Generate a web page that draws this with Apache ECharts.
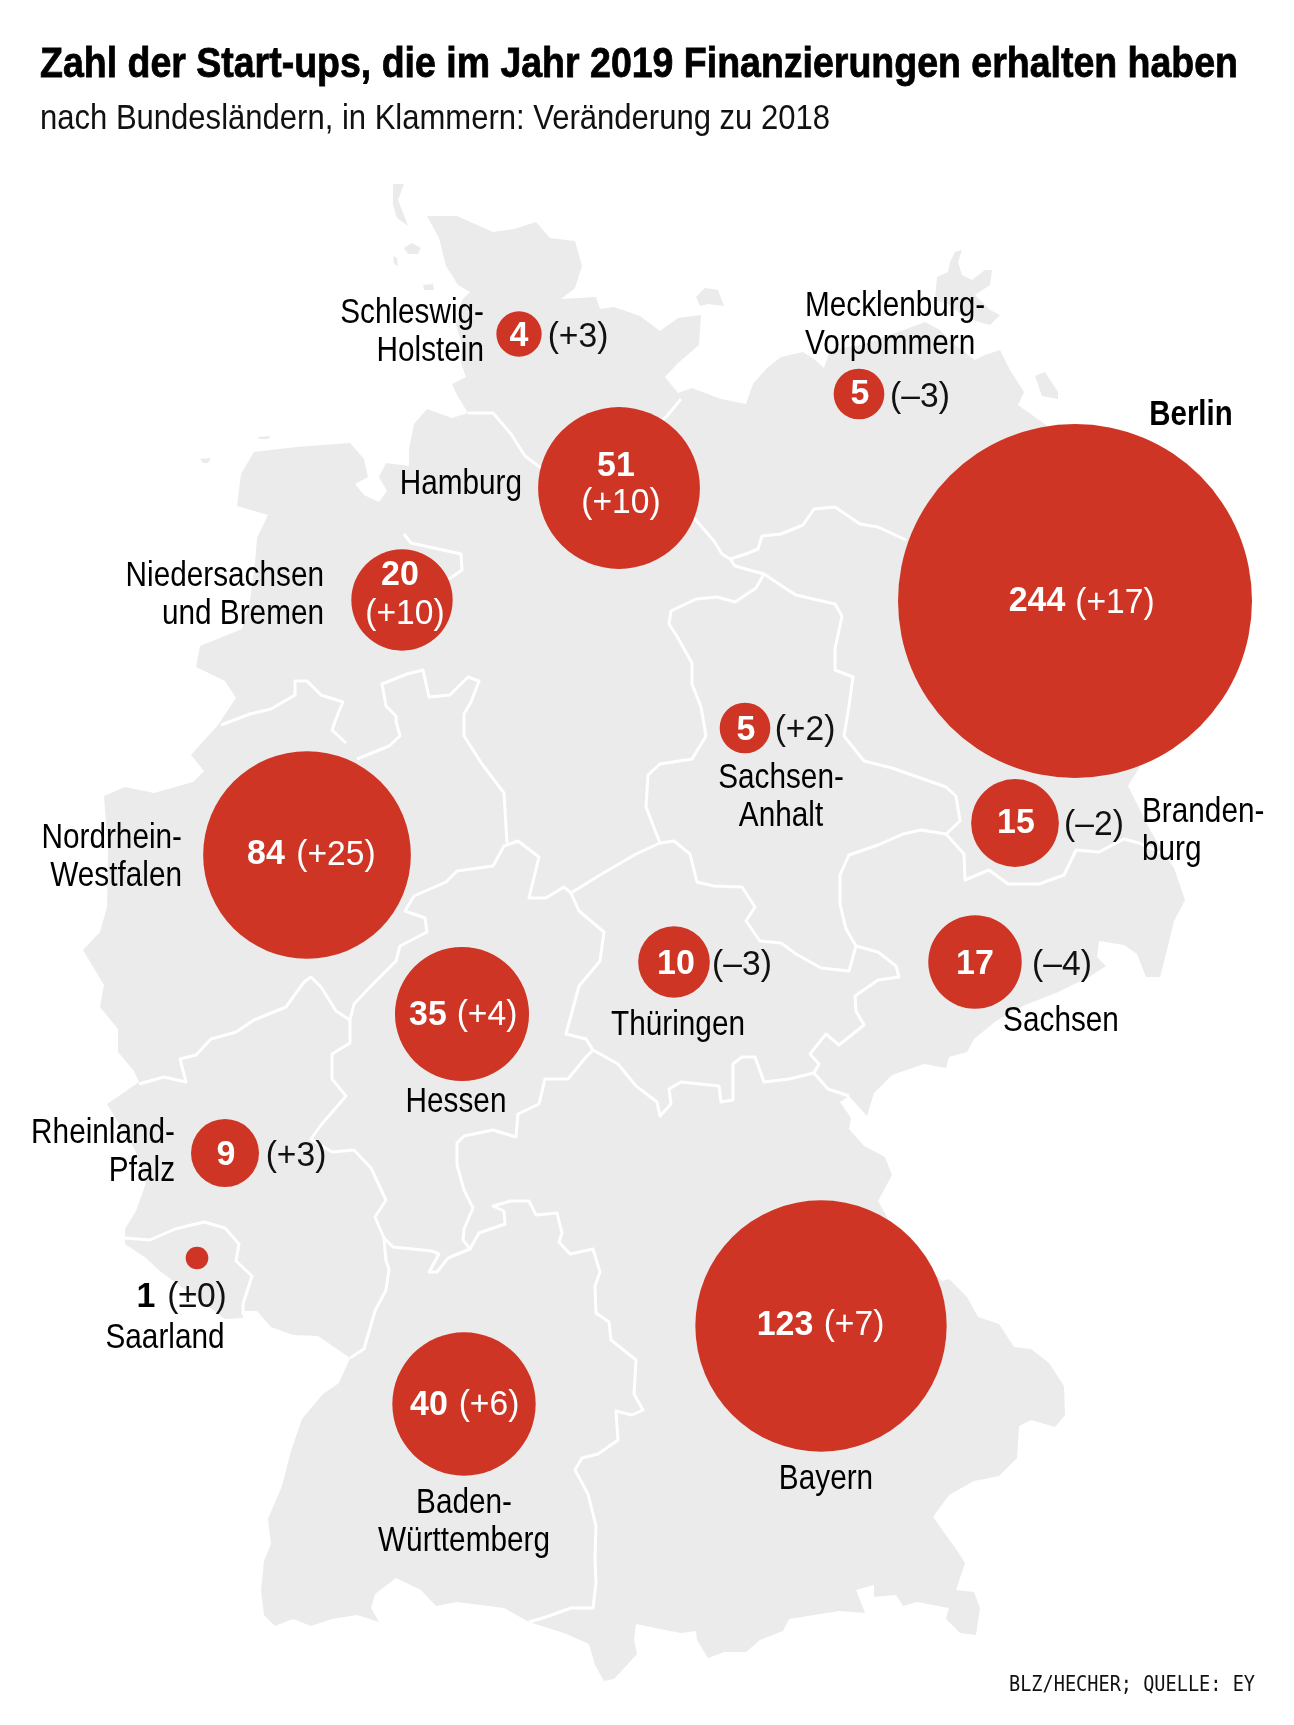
<!DOCTYPE html>
<html>
<head>
<meta charset="utf-8">
<style>html,body{margin:0;padding:0;background:#fff}#main{width:1294px;height:1725px}</style>
<script src="https://cdn.jsdelivr.net/npm/echarts@6/dist/echarts.min.js"></script>
</head>
<body>
<div id="main"></div>
<script>
// Daten
var stateNames = ['Schleswig-\nHolstein','Mecklenburg-\nVorpommern','Hamburg','Niedersachsen\nund Bremen','Berlin','Sachsen-\nAnhalt','Branden-\nburg','Sachsen','Thüringen','Nordrhein-\nWestfalen','Hessen','Rheinland-\nPfalz','Saarland','Baden-\nWürttemberg','Bayern'];
var startups = [4,5,51,20,244,5,15,17,10,84,35,9,1,40,123];
var changes = [3,-3,10,10,17,2,-2,-4,-3,25,4,3,0,6,7];

// Lage der Kreise und Texte auf der Karte
var bubblePos = [[519,334],[859,394],[619,488],[402,600],[1075,601],[745,728],[1015,823],[975,962],[674,962],[307,855],[462,1014],[225,1153],[197,1258],[464,1404],[821,1326]];
var numberPos = [[519,336],[860,394],[616,466],[400,575],[1037,601],[746,730],[1016,823],[975,964],[676,964],[266,854],[428,1015],[226,1155],[146,1297],[429,1405],[785,1325]];
var changePos = [[578,337],[920,397],[621,503],[405,614],[1115,603],[805,730],[1094,825],[1062,965],[742,965],[336,855],[487,1015],[296,1156],[197,1297],[489,1405],[854,1325]];
var namePos = [[484,332],[805,325],[522,484],[324,595],[1191,415],[781,797],[1142,831],[1061,1021],[678,1025],[182,857],[456,1102],[175,1152],[165,1338],[464,1522],[826,1479]];
var nameAlign = ['right','left','right','right','center','center','left','center','center','right','center','right','center','center','center'];

// Umriss
var outline = [[427,216],[457,216],[493,232],[514,229],[536,222],[550,238],[575,241],[582,266],[575,288],[561,299],[596,297],[600,309],[614,307],[640,316],[660,331],[678,318],[701,315],[699,345],[678,363],[665,377],[678,393],[692,388],[721,399],[746,404],[753,384],[767,368],[781,357],[803,352],[815,360],[824,368],[830,350],[860,345],[890,335],[925,322],[940,330],[955,345],[975,360],[985,355],[1000,350],[1010,370],[1024,392],[1018,405],[1046,425],[1075,450],[1150,600],[1150,700],[1139,768],[1128,786],[1135,800],[1150,830],[1165,855],[1174,868],[1185,900],[1174,921],[1167,950],[1160,977],[1146,977],[1137,954],[1124,945],[1099,941],[1097,957],[1106,966],[1089,977],[1056,993],[1025,1005],[996,1021],[974,1039],[967,1052],[949,1057],[946,1068],[924,1064],[892,1075],[874,1093],[867,1116],[849,1096],[840,1102],[851,1118],[849,1129],[864,1146],[885,1157],[892,1175],[878,1201],[900,1240],[942,1281],[949,1279],[967,1297],[978,1317],[999,1324],[1014,1347],[1031,1349],[1049,1363],[1064,1386],[1065,1415],[1055,1427],[1031,1420],[1019,1426],[1017,1458],[999,1476],[974,1481],[949,1495],[933,1517],[956,1549],[965,1563],[956,1590],[974,1592],[980,1608],[976,1635],[960,1633],[946,1619],[949,1608],[917,1602],[903,1606],[896,1595],[874,1597],[874,1585],[856,1590],[865,1613],[839,1611],[789,1619],[783,1631],[760,1640],[746,1652],[724,1652],[708,1658],[697,1640],[696,1631],[681,1633],[660,1629],[636,1624],[634,1640],[637,1654],[614,1679],[604,1681],[595,1665],[589,1644],[564,1633],[529,1622],[504,1608],[457,1602],[436,1606],[421,1590],[396,1578],[375,1594],[371,1608],[379,1622],[357,1615],[332,1619],[311,1626],[293,1619],[275,1626],[264,1615],[261,1590],[264,1561],[271,1544],[268,1519],[282,1486],[291,1451],[302,1419],[323,1394],[339,1383],[350,1358],[318,1336],[293,1335],[271,1327],[257,1311],[243,1311],[243,1318],[225,1319],[200,1300],[161,1272],[146,1258],[125,1244],[125,1229],[136,1211],[146,1183],[135,1150],[107,1104],[139,1082],[134,1071],[118,1052],[118,1029],[100,1007],[104,985],[83,950],[100,932],[107,907],[108,850],[104,796],[125,787],[154,793],[193,782],[204,771],[191,755],[218,725],[236,698],[225,681],[196,667],[200,646],[242,629],[250,600],[255,563],[257,538],[268,515],[237,506],[241,474],[254,452],[296,447],[350,443],[364,459],[368,477],[355,484],[364,495],[379,502],[387,491],[379,477],[386,463],[409,466],[409,449],[414,424],[427,409],[452,418],[468,413],[457,395],[452,384],[466,377],[461,363],[462,345],[456,325],[462,300],[470,292],[458,285],[446,266],[439,238]];
var islands = [
  [[393,184],[404,184],[398,200],[405,218],[408,226],[397,218],[393,205]],
  [[404,248],[412,243],[421,248],[418,254],[408,254]],
  [[393,256],[397,258],[398,266],[394,264]],
  [[423,285],[433,284],[434,290],[424,290]],
  [[200,459],[211,458],[208,463],[203,463]],
  [[257,437],[271,436],[268,439],[260,439]],
  [[696,297],[705,288],[718,290],[724,306],[708,304],[700,306]],
  [[937,277],[948,272],[950,262],[955,252],[962,250],[958,262],[962,275],[972,280],[985,270],[992,270],[990,285],[975,295],[990,310],[1000,315],[990,325],[965,318],[950,305],[935,300]],
  [[1035,376],[1045,372],[1058,392],[1058,399],[1042,396]]
];

// Landesgrenzen
var borders = [
  [[468,413],[493,413],[511,434],[525,456],[541,468],[600,490],[694,518],[714,541],[722,554],[730,559],[735,566],[764,574],[785,588],[796,595],[835,604],[842,616],[835,649],[835,670],[853,677],[849,706],[844,736],[864,761],[892,768],[946,787],[956,796],[960,821],[946,834]],
  [[681,399],[667,416],[640,440]],
  [[730,559],[746,554],[758,549],[762,536],[781,534],[803,525],[814,509],[835,507],[860,524],[878,527],[906,540]],
  [[764,574],[756,588],[735,602],[717,597],[696,599],[671,611],[669,624],[678,638],[692,663],[692,684],[701,707],[706,736],[692,759],[660,764],[648,775],[646,807],[660,843],[674,841],[690,854],[697,882],[714,886],[742,887],[755,907],[746,921],[760,941],[781,943],[796,954],[821,968],[849,971],[856,946]],
  [[946,834],[921,830],[903,834],[878,845],[849,855],[840,875],[840,904],[846,929],[856,946],[878,952],[896,966],[899,977],[878,980],[855,996],[856,1011],[864,1025],[839,1045],[826,1034],[810,1054],[819,1064],[814,1073],[828,1089],[849,1096]],
  [[814,1073],[789,1079],[764,1082],[755,1057],[742,1057],[733,1064],[733,1100],[721,1102],[719,1086],[681,1082],[669,1089],[671,1104],[660,1116],[657,1102],[636,1086],[618,1064],[593,1050]],
  [[593,1050],[586,1039],[566,1034],[579,986],[600,961],[604,932],[579,911],[571,893],[600,875],[636,854],[660,843]],
  [[571,893],[564,887],[546,898],[529,898],[539,857],[518,841],[504,846],[493,866],[457,871],[446,882],[414,896],[405,911],[425,918],[427,932],[400,946],[396,961],[371,986],[354,1004],[350,1020],[336,1011],[321,987],[311,977],[304,982],[286,1007],[254,1020],[236,1032],[211,1039],[196,1055],[180,1059],[186,1082],[164,1077],[139,1084]],
  [[507,843],[504,793],[482,764],[464,736],[464,714],[471,702],[479,681],[468,677],[450,695],[429,697],[423,670],[407,674],[382,684],[386,706],[396,716],[396,721],[400,736],[389,746],[357,759]],
  [[346,743],[332,730],[339,711],[343,702],[321,695],[307,681],[295,681],[295,695],[271,709],[250,714],[221,725]],
  [[350,1020],[350,1043],[332,1054],[332,1079],[346,1096],[321,1125],[311,1139],[332,1152],[354,1150],[371,1168],[386,1200],[375,1217],[384,1238],[386,1261],[389,1269],[386,1290],[375,1311],[364,1349],[350,1358]],
  [[384,1238],[393,1247],[432,1251],[439,1254],[429,1272],[437,1272],[448,1258],[470,1249],[463,1240],[464,1229],[473,1208],[464,1190],[457,1165],[457,1143],[464,1136],[493,1130],[516,1137],[518,1114],[539,1104],[545,1079],[568,1079],[586,1057],[593,1050]],
  [[470,1249],[479,1233],[505,1224],[504,1211],[493,1206],[511,1201],[529,1201],[536,1215],[557,1213],[562,1233],[559,1242],[570,1254],[593,1249],[600,1272],[595,1286],[596,1313],[609,1322],[611,1340],[636,1360],[634,1394],[643,1410],[632,1415],[616,1411],[618,1440],[598,1454],[582,1458],[575,1470],[588,1494],[596,1526],[595,1558],[596,1583],[593,1608],[571,1608],[546,1617],[529,1622]],
  [[125,1238],[150,1240],[175,1229],[204,1222],[225,1228],[239,1244],[236,1261],[252,1276],[243,1304],[243,1315]],
  [[404,534],[411,543],[443,550],[461,554],[462,570],[452,577],[430,590]],
  [[946,834],[964,854],[965,880],[989,870],[1008,884],[1039,884],[1064,875],[1076,850],[1099,852],[1124,839],[1139,843],[1165,855]]
];

var FONT = '"Liberation Sans",sans-serif';
var RED = '#cf3524';

function flip(p){return [p[0],-p[1]];}
function changeText(c){
    if(c>0) return '(+'+c+')';
    if(c<0) return '(–'+(-c)+')';
    return '(±'+c+')';
}
// schmale Schrift gibt es nicht, also horizontal stauchen
var ctx = document.createElement('canvas').getContext('2d');
function fitX(text,font,target){
    ctx.font = font;
    return target/ctx.measureText(text).width;
}
function textSeries(name,pos,texts,style){
    return {
        type:'custom',name:name,coordinateSystem:'geo',geoIndex:0,silent:true,z:5,
        data:pos.map(flip),
        renderItem:function(params,api){
            var i = params.dataIndex;
            var p = api.coord([api.value(0),api.value(1)]);
            var s = style(i);
            return {
                type:'text',x:p[0],y:p[1],scaleX:s.scaleX,
                style:{
                    text:texts[i],fill:s.color,fontFamily:FONT,fontSize:35,fontWeight:s.weight,
                    align:s.align||'center',verticalAlign:'middle',lineHeight:38
                }
            };
        }
    };
}

echarts.registerMap('deutschland',{type:'FeatureCollection',features:[{
    type:'Feature',properties:{name:'Deutschland'},
    geometry:{type:'MultiPolygon',coordinates:[outline.concat([outline[0]])].concat(islands.map(function(r){return r.concat([r[0]]);})).map(function(r){return [r.map(flip)];})}
}]});

var titleText = 'Zahl der Start-ups, die im Jahr 2019 Finanzierungen erhalten haben';
var subText = 'nach Bundesländern, in Klammern: Veränderung zu 2018';
var sourceText = 'BLZ/HECHER; QUELLE: EY';

var myChart = echarts.init(document.getElementById('main'));
myChart.setOption({
    animation:false,
    backgroundColor:'#fff',
    graphic:[
        {type:'text',x:40,y:65,scaleX:fitX(titleText,'bold 43px "Liberation Sans"',1198),silent:true,
            style:{text:titleText,fill:'#000',stroke:'#000',lineWidth:0.8,fontFamily:FONT,fontSize:43,fontWeight:'bold',verticalAlign:'middle'}},
        {type:'text',x:40,y:119,scaleX:fitX(subText,'35px "Liberation Sans"',790),silent:true,
            style:{text:subText,fill:'#111',fontFamily:FONT,fontSize:35,verticalAlign:'middle'}},
        {type:'text',x:1009,y:1686,scaleX:fitX(sourceText,'21px "DejaVu Sans Mono"',246),silent:true,
            style:{text:sourceText,fill:'#111',fontFamily:'"DejaVu Sans Mono",monospace',fontSize:21,verticalAlign:'middle'}}
    ],
    geo:{
        map:'deutschland',roam:false,silent:true,aspectScale:1,
        boundingCoords:[[0,0],[1294,-1725]],
        left:0,top:0,width:1294,height:1725,
        itemStyle:{areaColor:'#ebebeb',borderWidth:0},
        label:{show:false},
        emphasis:{disabled:true}
    },
    series:[
        {
            name:'Landesgrenzen',type:'lines',coordinateSystem:'geo',geoIndex:0,polyline:true,silent:true,z:2,
            lineStyle:{color:'#fff',width:3,opacity:1,join:'round'},
            data:borders.map(function(b){return {coords:b.map(flip)};})
        },
        {
            name:'Start-ups',type:'scatter',coordinateSystem:'geo',geoIndex:0,silent:true,z:3,
            symbolSize:function(v){return 22.66*Math.sqrt(v[2]);},
            itemStyle:{color:RED,opacity:1},
            data:bubblePos.map(function(p,i){return flip(p).concat(startups[i]);})
        },
        textSeries('Anzahl',numberPos,startups.map(String),function(i){
            return {weight:'bold',scaleX:0.97,color:startups[i]>1?'#fff':'#000'};
        }),
        textSeries('Veränderung',changePos,changes.map(changeText),function(i){
            return {weight:'normal',scaleX:0.96,color:startups[i]>=20?'#fff':'#111'};
        }),
        textSeries('Bundesland',namePos,stateNames,function(i){
            var bold = stateNames[i]==='Berlin';
            return {weight:bold?'bold':'normal',scaleX:bold?0.84:0.85,color:'#000',align:nameAlign[i]};
        })
    ]
});
</script>
</body>
</html>
